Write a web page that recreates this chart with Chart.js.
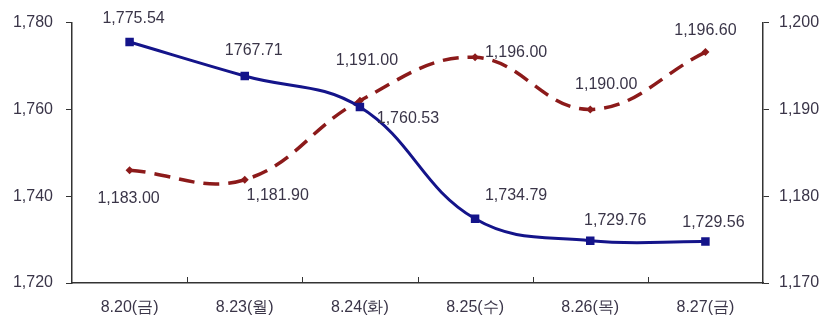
<!DOCTYPE html>
<html>
<head>
<meta charset="utf-8">
<script src="https://cdn.jsdelivr.net/npm/chart.js@4.4.1/dist/chart.umd.min.js"></script>
<style>
  html, body { margin: 0; padding: 0; background: #fff; }
  #wrap { width: 827px; height: 331px; }
</style>
</head>
<body>
<div id="wrap"><canvas id="chart" width="827" height="331"></canvas></div>
<script>
// Data
const dates = ['8.20(금)', '8.23(월)', '8.24(화)', '8.25(수)', '8.26(목)', '8.27(금)'];
const blueValues = [1775.54, 1767.71, 1760.53, 1734.79, 1729.76, 1729.56];
const redValues = [1183.00, 1181.90, 1191.00, 1196.00, 1190.00, 1196.60];
const blueLabels = ['1,775.54', '1767.71', '1,760.53', '1,734.79', '1,729.76', '1,729.56'];
const redLabels = ['1,183.00', '1,181.90', '1,191.00', '1,196.00', '1,190.00', '1,196.60'];
const leftTicks = [1720, 1740, 1760, 1780];
const rightTicks = [1170, 1180, 1190, 1200];

// label offsets from each point (dx, dy)
const blueOffsets = [[4, -23], [9, -25], [48, 11], [41, -23], [25, -20], [8, -19]];
const redOffsets = [[-1, 28], [33, 16], [7, -40], [41, -5], [16, -25], [0, -22]];

const fmt = v => v.toLocaleString('en-US');
const textColor = '#3a3548';
const axisColor = '#333333';
const fontFamily = '"Liberation Sans", Arial, sans-serif';

// draws value labels next to points
const pointLabels = {
    id: 'pointLabels',
    afterDatasetsDraw(chart) {
        const ctx = chart.ctx;
        ctx.save();
        ctx.font = '16px ' + fontFamily;
        ctx.fillStyle = textColor;
        ctx.textAlign = 'center';
        ctx.textBaseline = 'middle';
        chart.data.datasets.forEach((ds, i) => {
            const meta = chart.getDatasetMeta(i);
            meta.data.forEach((pt, j) => {
                const off = ds.labelOffsets[j];
                ctx.fillText(ds.pointText[j], pt.x + off[0], pt.y + off[1]);
            });
        });
        ctx.restore();
    }
};

// short inward ticks on the category axis
const xTicks = {
    id: 'xTicks',
    afterDraw(chart) {
        const x = chart.scales.x;
        const ctx = chart.ctx;
        ctx.save();
        ctx.strokeStyle = axisColor;
        ctx.lineWidth = 1;
        for (let i = 0; i < dates.length - 1; i++) {
            const px = Math.round((x.getPixelForValue(i) + x.getPixelForValue(i + 1)) / 2) + 0.5;
            ctx.beginPath();
            ctx.moveTo(px, x.top);
            ctx.lineTo(px, x.top - 6);
            ctx.stroke();
        }
        ctx.restore();
    }
};

new Chart(document.getElementById('chart'), {
    type: 'line',
    data: {
        labels: dates,
        datasets: [
            {
                data: blueValues,
                yAxisID: 'y',
                borderColor: '#14148a',
                backgroundColor: '#14148a',
                borderWidth: 3,
                tension: 0.4,
                pointStyle: 'rect',
                pointRadius: 6,
                pointBorderWidth: 0,
                pointText: blueLabels,
                labelOffsets: blueOffsets
            },
            {
                data: redValues,
                yAxisID: 'y1',
                borderColor: '#8c1a1a',
                backgroundColor: '#8c1a1a',
                borderWidth: 3.5,
                borderDash: [16, 9],
                tension: 0.4,
                pointStyle: 'rectRot',
                pointRadius: 4,
                pointBorderWidth: 0,
                pointText: redLabels,
                labelOffsets: redOffsets
            }
        ]
    },
    options: {
        responsive: false,
        animation: false,
        layout: { padding: { top: 20, left: 0, right: 0, bottom: 0 } },
        plugins: {
            legend: { display: false },
            tooltip: { enabled: false }
        },
        scales: {
            x: {
                offset: true,
                afterFit: s => { s.height = 48; },
                grid: { display: false },
                border: { display: true, color: axisColor, width: 1.5 },
                ticks: {
                    color: textColor,
                    padding: 7,
                    font: { size: 16, family: fontFamily }
                }
            },
            y: {
                position: 'left',
                min: 1720,
                max: 1780,
                afterFit: s => { s.width = 72; },
                afterBuildTicks: s => { s.ticks = leftTicks.map(v => ({ value: v })); },
                grid: { drawOnChartArea: false, tickLength: 6, color: axisColor },
                border: { display: true, color: axisColor, width: 1.5 },
                ticks: {
                    color: textColor,
                    padding: 13,
                    callback: v => fmt(v),
                    font: { size: 16, family: fontFamily }
                }
            },
            y1: {
                position: 'right',
                min: 1170,
                max: 1200,
                afterFit: s => { s.width = 64; },
                afterBuildTicks: s => { s.ticks = rightTicks.map(v => ({ value: v })); },
                grid: { drawOnChartArea: false, tickLength: 6, color: axisColor },
                border: { display: true, color: axisColor, width: 1.5 },
                ticks: {
                    color: textColor,
                    padding: 10,
                    callback: v => fmt(v),
                    font: { size: 16, family: fontFamily }
                }
            }
        }
    },
    plugins: [pointLabels, xTicks]
});
</script>
</body>
</html>
